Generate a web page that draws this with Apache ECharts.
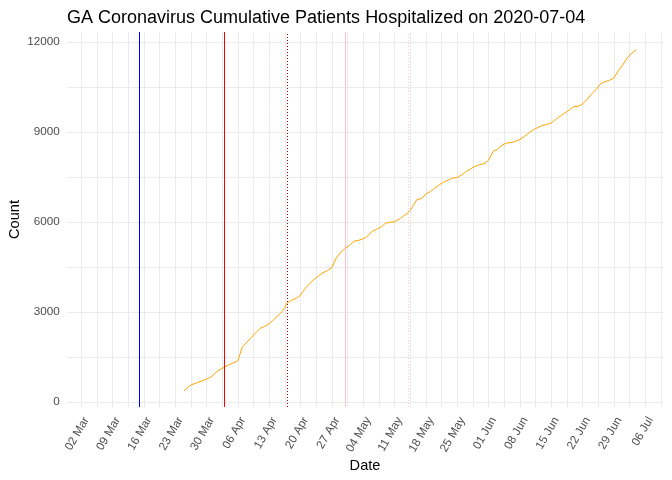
<!DOCTYPE html>
<html>
<head>
<meta charset="utf-8">
<script src="https://cdn.jsdelivr.net/npm/echarts@6/dist/echarts.min.js"></script>
<style>html,body{margin:0;padding:0;background:#fff}#c{width:672px;height:480px}</style>
</head>
<body>
<div id="c"></div>
<script>
// ---- data ----
const titleText = 'GA Coronavirus Cumulative Patients Hospitalized on 2020-07-04';
const axisOrigin = '2020-03-02';          // first labelled week tick
const seriesStart = '2020-03-25';         // first hospitalisation value
const hospitalized = [367, 515, 595, 650, 700, 755, 830, 975, 1080, 1160,
  1245, 1300, 1375, 1830, 1990, 2150, 2310, 2460, 2520, 2605,
  2740, 2890, 3030, 3300, 3390, 3450, 3560, 3780, 3940, 4080,
  4200, 4310, 4380, 4480, 4800, 4990, 5120, 5230, 5360, 5390,
  5440, 5530, 5690, 5757, 5835, 5960, 5990, 6010, 6090, 6205,
  6300, 6500, 6750, 6775, 6930, 7020, 7130, 7240, 7330, 7400,
  7465, 7485, 7570, 7680, 7775, 7855, 7910, 7945, 8060, 8350,
  8430, 8560, 8630, 8650, 8685, 8750, 8850, 8970, 9070, 9150,
  9215, 9250, 9300, 9420, 9530, 9630, 9730, 9845, 9855, 9940,
  10080, 10270, 10410, 10610, 10677, 10725, 10800, 11045, 11240, 11480,
  11625, 11735];
const eventDates = ['2020-03-15', '2020-04-03', '2020-04-17', '2020-04-30', '2020-05-14'];
const yTickLabels = [0, 3000, 6000, 9000, 12000];

// ---- helpers ----
const DAY = 86400000;
function dayNum(s) { return (Date.parse(s + 'T00:00:00Z') - Date.parse(axisOrigin + 'T00:00:00Z')) / DAY; }
const months = ['Jan','Feb','Mar','Apr','May','Jun','Jul','Aug','Sep','Oct','Nov','Dec'];
function fmtDay(v) {
  const d = new Date(Date.parse(axisOrigin + 'T00:00:00Z') + Math.round(v) * DAY);
  const dd = String(d.getUTCDate()).padStart(2, '0');
  return dd + ' ' + months[d.getUTCMonth()];
}
const s0 = dayNum(seriesStart);
const lineData = hospitalized.map((v, i) => [s0 + i, v]);

const eventStyles = [
  { color: '#0000FF', type: 'solid' },
  { color: '#FF0000', type: 'solid' },
  { color: '#8B0000', type: [1, 2] },
  { color: '#FFC0CB', type: 'solid' },
  { color: '#FFC0CB', type: [1, 2] }
];
const eventSeries = eventDates.map((d, i) => ({
  type: 'line', data: [], silent: true, z: 1,
  markLine: {
    silent: true, symbol: ['none', 'none'], label: { show: false },
    lineStyle: { color: eventStyles[i].color, type: eventStyles[i].type, width: 1, opacity: 1 },
    emphasis: { disabled: true },
    data: [{ xAxis: dayNum(d) }]
  }
}));

const font = 'Liberation Sans, Arial, sans-serif';
const chart = echarts.init(document.getElementById('c'), null, { renderer: 'canvas' });
chart.setOption({
  animation: false,
  backgroundColor: '#ffffff',
  title: {
    text: titleText, left: 62, top: 4,
    textStyle: { fontFamily: font, fontSize: 18, fontWeight: 'normal', color: '#000' }
  },
  grid: { left: 66.7, right: 8.7, top: 32, bottom: 73, containLabel: false, outerBoundsMode: 'none' },
  xAxis: {
    type: 'value', min: -3.22, max: 130.03,
    minInterval: 3.5, maxInterval: 3.5, splitNumber: 38,
    name: 'Date', nameLocation: 'middle', nameGap: 51, nameMoveOverlap: false,
    nameTextStyle: { fontFamily: font, fontSize: 14.6, color: '#000' },
    axisLine: { show: false }, axisTick: { show: false },
    splitLine: { show: true, showMinLine: false, showMaxLine: false, lineStyle: { color: '#EBEBEB', width: 1 } },
    axisLabel: {
      rotate: 60, margin: 8, fontFamily: font, fontSize: 11.7, color: '#4D4D4D',
      align: 'right', verticalAlign: 'top',
      showMinLabel: true, showMaxLabel: true, hideOverlap: false,
      formatter: v => (Math.abs(v / 7 - Math.round(v / 7)) < 1e-6 ? fmtDay(v) : '')
    }
  },
  yAxis: {
    type: 'value', min: -166.67, max: 12333.33,
    minInterval: 1500, maxInterval: 1500, splitNumber: 8,
    name: 'Count', nameLocation: 'middle', nameGap: 44, nameMoveOverlap: false,
    nameTextStyle: { fontFamily: font, fontSize: 14.6, color: '#000' },
    axisLine: { show: false }, axisTick: { show: false },
    splitLine: { show: true, showMinLine: false, showMaxLine: false, lineStyle: { color: '#EBEBEB', width: 1 } },
    axisLabel: {
      margin: 7, fontFamily: font, fontSize: 11.7, color: '#4D4D4D',
      formatter: v => (yTickLabels.some(t => Math.abs(t - v) < 1e-6) ? String(Math.round(v)) : '')
    }
  },
  series: eventSeries.concat([{
    type: 'line', data: lineData, showSymbol: false, symbol: 'none', z: 3,
    lineStyle: { color: '#FFA500', width: 1 }
  }])
});
</script>
</body>
</html>
